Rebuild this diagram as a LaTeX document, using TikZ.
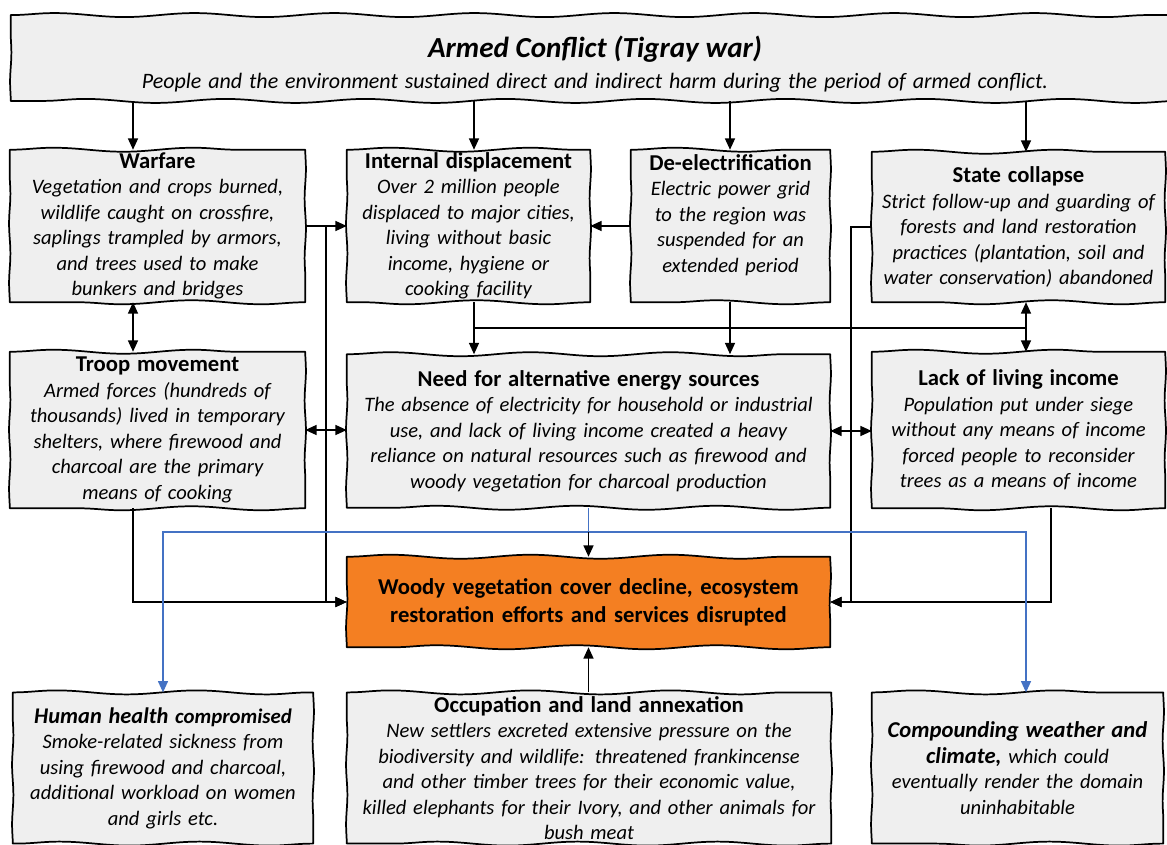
\documentclass[tikz,border=0pt]{standalone}
\usepackage{fontspec}
\setmainfont{Carlito}
\usetikzlibrary{arrows.meta,decorations.pathmorphing,calc,backgrounds}
\definecolor{boxgray}{HTML}{EFEFEF}
\definecolor{woodyorange}{HTML}{F47F22}
\definecolor{lineblue}{HTML}{4472C4}
\newcommand{\boxtitle}[1]{{\fontsize{17}{20}\selectfont\bfseries #1}}
\begin{document}
\begin{tikzpicture}[x=0.75pt,y=-0.75pt,
  box/.style={align=center, inner sep=0pt, font=\fontsize{15.4}{19.1}\selectfont},
  wavy/.style={draw=black, line width=1.3pt, line join=round,
    decoration={snake, segment length=105pt, amplitude=1.5pt}},
  side/.style={decoration={snake, segment length=45pt, amplitude=0.5pt}},
  con/.style={line width=1.1pt, draw=black},
  tip/.style={},
  arr/.style={con, -{Triangle[length=8.5pt,width=7.5pt]}},
  darr/.style={con, {Triangle[length=8.5pt,width=7.5pt]}-{Triangle[length=8.5pt,width=7.5pt]}},
  blu/.style={line width=1pt, draw=lineblue},
  bluarr/.style={blu, -{Triangle[length=8.5pt,width=7.5pt]}}]
\useasboundingbox (0,0) rectangle (1167,845);

% ---------- nodes ----------
\node[box, minimum width=876pt, minimum height=64pt, text width=860pt] (banner) at (595,58)
  {{\fontsize{21.8}{26}\selectfont\bfseries\itshape\rule{0pt}{25pt}Armed Conflict (Tigray war)}\\[4.5pt]
   {\fontsize{16.5}{20}\selectfont\itshape People and the environment sustained direct and indirect harm during the period of armed conflict.}};

\node[box, minimum width=221.25pt, minimum height=114pt, text width=217pt] (war) at (157.5,226)
  {\boxtitle{Warfare}\\\itshape Vegetation and crops burned,\\ wildlife caught on crossfire,\\ saplings trampled by armors,\\ and trees used to make\\ bunkers and bridges};

\node[box, minimum width=182.25pt, minimum height=114pt, text width=178pt] (id) at (468.5,226)
  {\boxtitle{Internal displacement}\\\itshape Over 2 million people\\ displaced to major cities,\\ living without basic\\ income, hygiene or\\ cooking facility};

\node[box, minimum width=149.25pt, minimum height=114pt, text width=145pt] (dee) at (730.5,226)
  {\boxtitle{De-electrification}\\\itshape Electric power grid\\ to the region was\\ suspended for an\\ extended period\\ \mbox{}};

\node[box, minimum width=219.75pt, minimum height=112.5pt, text width=216pt] (sc) at (1018.5,227)
  {\boxtitle{State collapse}\\\itshape Strict follow-up and guarding of\\ forests and land restoration\\ practices (plantation, soil and\\ water conservation) abandoned};

\node[box, minimum width=221.25pt, minimum height=117pt, text width=217pt] (troop) at (157.5,430)
  {\boxtitle{Troop movement}\\\itshape Armed forces (hundreds of\\ thousands) lived in temporary\\ shelters, where firewood and\\ charcoal are the primary\\ means of cooking};

\node[box, minimum width=362.25pt, minimum height=114.75pt, text width=358pt] (need) at (588.5,431)
  {\boxtitle{Need for alternative energy sources}\\\itshape The absence of electricity for household or industrial\\ use, and lack of living income created a heavy\\ reliance on natural resources such as firewood and\\ woody vegetation for charcoal production};

\node[box, minimum width=219.75pt, minimum height=117pt, text width=216pt] (lack) at (1018.5,430)
  {\boxtitle{Lack of living income}\\\itshape Population put under siege\\ without any means of income\\ forced people to reconsider\\ trees as a means of income};

\node[box, minimum width=362.25pt, minimum height=67.5pt, text width=358pt,
  font=\fontsize{17}{21}\selectfont\bfseries] (woody) at (588.5,602)
  {Woody vegetation cover decline, ecosystem\\ restoration efforts and services disrupted};

\node[box, minimum width=225pt, minimum height=113pt, text width=220pt] (hh) at (163,768)
  {{\fontsize{16.8}{20}\selectfont\bfseries\itshape Human health} {\fontsize{15.6}{20}\selectfont\bfseries\itshape compromised}\\\itshape Smoke-related sickness from\\ using firewood and charcoal,\\ additional workload on women\\ and girls etc.};

\node[box, minimum width=363pt, minimum height=113pt, text width=356pt] (occ) at (589,768)
  {\boxtitle{Occupation and land annexation}\\\itshape New settlers excreted extensive pressure on the\\ biodiversity and wildlife: threatened frankincense\\ and other timber trees for their economic value,\\ killed elephants for their Ivory, and other animals for\\ bush meat};

\node[box, minimum width=218.25pt, minimum height=113pt, text width=214pt] (comp) at (1017.5,768)
  {{\fontsize{17}{21}\selectfont\bfseries\itshape Compounding weather and}\\ {\fontsize{17}{21}\selectfont\bfseries\itshape climate,} {\itshape which could}\\ \itshape eventually render the domain\\ uninhabitable};

% ---------- wavy outlines ----------
\begin{scope}[on background layer]
\foreach \n/\c in {banner/boxgray,war/boxgray,id/boxgray,dee/boxgray,sc/boxgray,troop/boxgray,need/boxgray,lack/boxgray,woody/woodyorange,hh/boxgray,occ/boxgray,comp/boxgray}
  \path[wavy, fill=\c] (\n.north west) decorate {-- (\n.north east)}
     decorate[side] {-- (\n.south east)} decorate {-- (\n.south west)}
     decorate[side] {-- (\n.north west)} -- cycle;
\end{scope}

% ---------- helper coordinates ----------
\coordinate (c1) at (133,0);
\coordinate (c2) at (474,0);
\coordinate (c3) at (730,0);
\coordinate (c4) at (1026,0);
\coordinate (c5) at (1051,0);
\coordinate (c6) at (163,0);
\coordinate (hbar) at (0,328);
\coordinate (bbar) at (0,532);
\coordinate (j1) at ($(war.east)!0.5!(id.west)$);
\coordinate (j2) at ($(need.east)!0.5!(lack.west)$);

% ---------- connectors ----------
\draw[arr] (banner.south -| c1) -- (war.north -| c1);
\draw[arr] (banner.south -| c2) -- (id.north -| c2);
\draw[arr] (banner.south -| c3) -- (dee.north -| c3);
\draw[arr] (banner.south -| c4) -- (sc.north -| c4);

\draw[darr] (war.south -| c1) -- (troop.north -| c1);
\draw[arr] (war.east) -- (id.west);
\draw[arr] (j1) |- (woody.west);
\draw[arr] (troop.south -| c1) |- (woody.west);
\draw[arr] (dee.west) -- (id.east);
\draw[arr] (sc.west) -| (j2 |- woody.east) -- (woody.east);
\draw[arr] (lack.south -| c5) |- (woody.east);

\draw[arr] (id.south -| c2) -- (need.north -| c2);
\draw[arr] (dee.south -| c3) -- (need.north -| c3);
\draw[con] (c2 |- hbar) -- (c4 |- hbar);
\draw[arr] (c4 |- hbar) -- (sc.south -| c4);
\draw[arr] (c4 |- hbar) -- (lack.north -| c4);

\draw[darr] (troop.east) -- (troop.east -| need.west);
\draw[darr] (need.east) -- (need.east -| lack.west);

\draw[blu] (need.south) -- (need.south |- bbar);
\draw[bluarr] (need.south |- bbar) -| (hh.north -| c6);
\draw[bluarr] (need.south |- bbar) -| (comp.north -| c4);
\draw[arr] (need.south |- bbar) -- (woody.north);
\draw[arr] (occ.north -| woody.south) -- (woody.south);
\end{tikzpicture}
\end{document}
